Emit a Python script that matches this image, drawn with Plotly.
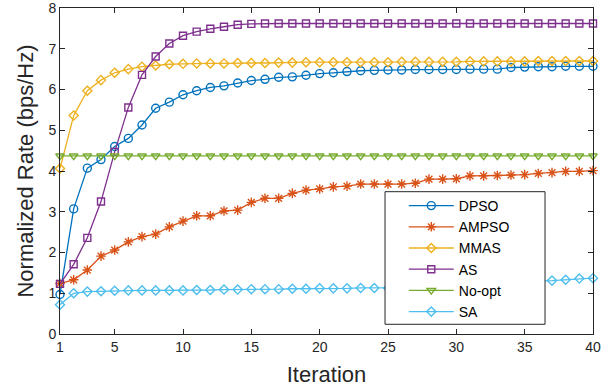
import plotly.graph_objects as go

iterations = list(range(1, 41))

dpso = [0.97, 3.07, 4.07, 4.28, 4.60, 4.80, 5.13, 5.54, 5.69, 5.87,
        5.97, 6.05, 6.09, 6.16, 6.22, 6.25, 6.30, 6.31, 6.35, 6.39,
        6.41, 6.44, 6.46, 6.47, 6.48, 6.48, 6.49, 6.49, 6.49, 6.49,
        6.50, 6.50, 6.50, 6.54, 6.55, 6.56, 6.56, 6.57, 6.57, 6.57]

ampso = [1.24, 1.33, 1.57, 1.91, 2.06, 2.26, 2.39, 2.45, 2.63, 2.77,
         2.90, 2.90, 3.02, 3.04, 3.23, 3.33, 3.33, 3.45, 3.53, 3.56,
         3.61, 3.63, 3.68, 3.68, 3.68, 3.68, 3.70, 3.80, 3.80, 3.81,
         3.88, 3.88, 3.89, 3.90, 3.91, 3.94, 3.96, 3.99, 3.99, 4.01]

mmas = [4.06, 5.36, 5.97, 6.23, 6.41, 6.50, 6.56, 6.59, 6.62, 6.63,
        6.64, 6.64, 6.64, 6.65, 6.65, 6.65, 6.66, 6.66, 6.67, 6.67,
        6.67, 6.67, 6.67, 6.67, 6.67, 6.68, 6.68, 6.68, 6.68, 6.68,
        6.69, 6.69, 6.69, 6.69, 6.69, 6.70, 6.70, 6.70, 6.70, 6.70]

as_rate = [1.23, 1.71, 2.36, 3.25, 4.47, 5.56, 6.36, 6.81, 7.13, 7.32,
           7.42, 7.49, 7.54, 7.59, 7.61, 7.62, 7.62, 7.62, 7.62, 7.62,
           7.62, 7.62, 7.62, 7.62, 7.62, 7.62, 7.62, 7.62, 7.62, 7.62,
           7.62, 7.62, 7.62, 7.62, 7.62, 7.62, 7.62, 7.62, 7.62, 7.62]

no_opt = [4.37] * 40

sa = [0.72, 1.00, 1.04, 1.05, 1.06, 1.07, 1.07, 1.07, 1.07, 1.07,
      1.08, 1.08, 1.09, 1.09, 1.10, 1.10, 1.10, 1.11, 1.11, 1.12,
      1.12, 1.12, 1.13, 1.13, 1.13, 1.13, 1.14, 1.15, 1.17, 1.19,
      1.21, 1.23, 1.25, 1.27, 1.28, 1.30, 1.31, 1.33, 1.36, 1.37]

x_ticks = [1, 5, 10, 15, 20, 25, 30, 35, 40]
y_ticks = [0, 1, 2, 3, 4, 5, 6, 7, 8]

series = [
    ("DPSO", dpso, "#0072BD", "circle-open", 8),
    ("AMPSO", ampso, "#D95319", "asterisk-open", 8),
    ("MMAS", mmas, "#EDB120", "diamond-open", 7),
    ("AS", as_rate, "#7E2F8E", "square-open", 7),
    ("No-opt", no_opt, "#77AC30", "triangle-down-open", 7.5),
    ("SA", sa, "#4DBEEE", "diamond-open", 7),
]

fig = go.Figure()
for name, vals, color, sym, size in series:
    fig.add_trace(go.Scatter(
        x=iterations, y=vals, name=name, mode="lines+markers",
        line=dict(color=color, width=1.3),
        marker=dict(symbol=sym, size=size, color=color,
                    line=dict(color=color, width=1.4)),
        cliponaxis=False,
    ))

axis_common = dict(
    showline=True, linecolor="#262626", linewidth=1, mirror="ticks",
    ticks="inside", ticklen=5, tickwidth=1, tickcolor="#262626",
    showgrid=False, zeroline=False, ticklabeloverflow="allow",
    automargin=False,
    tickfont=dict(family="Liberation Sans", size=14, color="#262626"),
)

fig.update_xaxes(range=[1, 40], tickvals=x_ticks, ticktext=[str(v) for v in x_ticks],
                 title=dict(text="Iteration", font=dict(family="Liberation Sans", size=22, color="#262626"),
                            standoff=12),
                 **axis_common)
fig.update_yaxes(range=[-0.0001, 8.0001], tickvals=y_ticks, ticktext=[str(v) for v in y_ticks],
                 title=dict(text="Normalized Rate (bps/Hz)", font=dict(family="Liberation Sans", size=22, color="#262626"),
                            standoff=8),
                 **axis_common)

# legend box (MATLAB style)
fig.add_shape(type="rect", xref="paper", yref="paper",
              x0=0.6098, x1=0.91, y0=0.0298, y1=0.4365,
              line=dict(color="#262626", width=1), fillcolor="white", layer="above")

fig.update_layout(
    width=616, height=390,
    margin=dict(l=60, r=23, t=8, b=56),
    plot_bgcolor="white", paper_bgcolor="white",
    showlegend=True,
    legend=dict(x=0.645, y=0.4417, xanchor="left", yanchor="top",
                bgcolor="rgba(0,0,0,0)", borderwidth=0,
                font=dict(family="Liberation Sans", size=14, color="#000000"),
                itemwidth=45),
)

fig.write_html("out.html")
